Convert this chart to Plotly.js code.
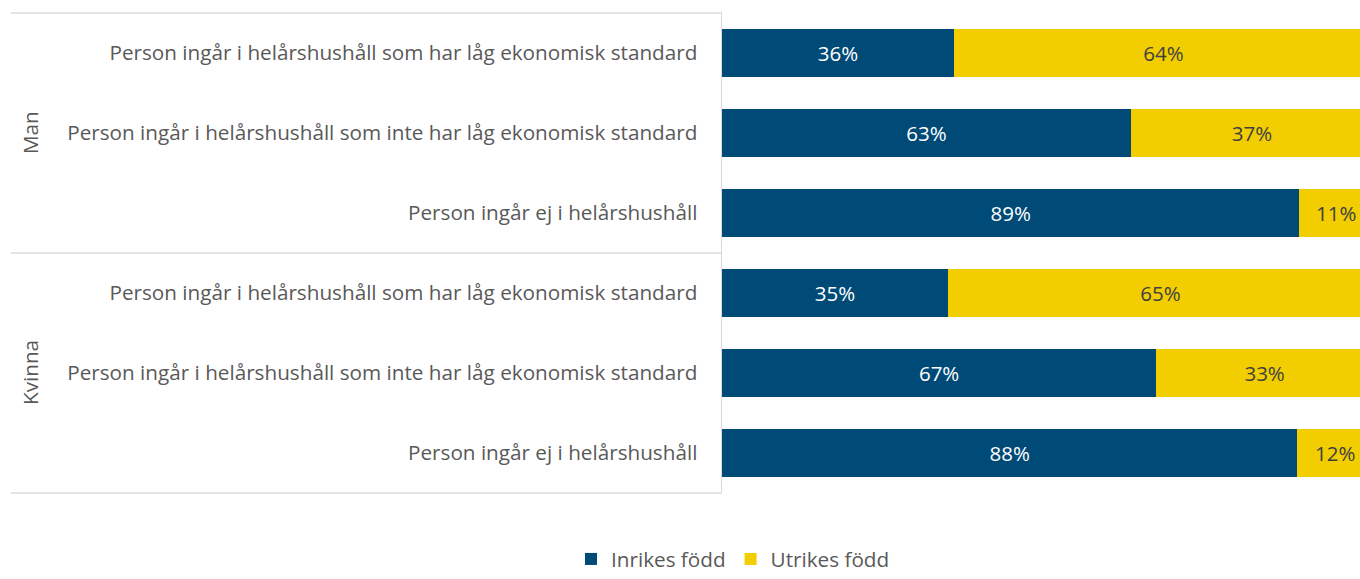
<!DOCTYPE html>
<html>
<head>
<meta charset="utf-8">
<script src="https://cdn.plot.ly/plotly-3.0.1.min.js"></script>
<style>
html,body{margin:0;padding:0;overflow:hidden;background:#fff;}
#chart{width:1373px;height:579px;}
</style>
</head>
<body>
<div id="chart"></div>
<script>
// Data
var groups = ["Man", "Kvinna"];
var categories = [
  "Person ingår i helårshushåll som har låg ekonomisk standard",
  "Person ingår i helårshushåll som inte har låg ekonomisk standard",
  "Person ingår ej i helårshushåll",
  "Person ingår i helårshushåll som har låg ekonomisk standard",
  "Person ingår i helårshushåll som inte har låg ekonomisk standard",
  "Person ingår ej i helårshushåll"
];
var inrikes = [35.6, 62.8, 88.7, 34.7, 66.7, 88.4];
var utrikes = [64.4, 37.2, 11.3, 65.3, 33.3, 11.6];
var seriesNames = ["Inrikes född", "Utrikes född"];

var FONT = "'Open Sans', 'Noto Sans', sans-serif";
var idx = categories.map(function(c, i){ return i; });

var common = {
  type: 'bar', orientation: 'h', y: idx,
  textposition: 'inside', insidetextanchor: 'middle',
  texttemplate: '%{x:.0f}%', textangle: 0, constraintext: 'none',
  hoverinfo: 'skip'
};
var t1 = Object.assign({}, common, {
  x: inrikes, name: seriesNames[0],
  marker: {color: '#004A77', line: {width: 0}},
  insidetextfont: {family: FONT, size: 20.5, color: '#ffffff'}
});
var t2 = Object.assign({}, common, {
  x: utrikes, name: seriesNames[1],
  marker: {color: '#F2CE00', line: {width: 0}},
  insidetextfont: {family: FONT, size: 20.5, color: '#404040'}
});

var lineColor = '#D9D9D9';
var plotW = 651, left = 722;
var xl = (11 - left) / plotW;
var shapes = [1, 0.5, 0].map(function(yy){
  return {type: 'line', xref: 'paper', yref: 'paper', x0: xl, x1: 0, y0: yy, y1: yy,
          line: {color: lineColor, width: 1.5}};
});
var annotations = groups.map(function(g, i){
  return {xref: 'paper', yref: 'paper', x: (30 - left) / plotW, y: i === 0 ? 0.75 : 0.25,
          xanchor: 'center', yanchor: 'middle',
          text: g, showarrow: false, textangle: -90,
          font: {family: FONT, size: 20.7, color: '#595959'}};
});

var layout = {
  width: 1373, height: 579,
  margin: {l: 722, r: 0, t: 13, b: 86, pad: 0},
  barmode: 'stack', bargap: 0.4,
  paper_bgcolor: '#ffffff', plot_bgcolor: '#ffffff',
  font: {family: FONT, size: 20.7, color: '#595959'},
  xaxis: {range: [0, 100], showgrid: false, zeroline: false, showticklabels: false,
          ticks: '', showline: false, fixedrange: true},
  yaxis: {autorange: false, range: [5.5, -0.5], tickmode: 'array', tickvals: idx,
          ticktext: categories, ticks: '', showgrid: false, zeroline: false,
          showline: true, linecolor: lineColor, linewidth: 1.5,
          ticklabelstandoff: 19, tickfont: {family: FONT, size: 20.7, color: '#595959'},
          fixedrange: true},
  showlegend: true,
  legend: {orientation: 'h', xref: 'container', yref: 'container',
           x: 733 / 1373, xanchor: 'center', y: 0, yanchor: 'bottom',
           font: {family: FONT, size: 20.7, color: '#595959'}, traceorder: 'normal'},
  shapes: shapes, annotations: annotations
};

Plotly.newPlot('chart', [t1, t2], layout, {displayModeBar: false, staticPlot: true});
</script>
</body>
</html>
